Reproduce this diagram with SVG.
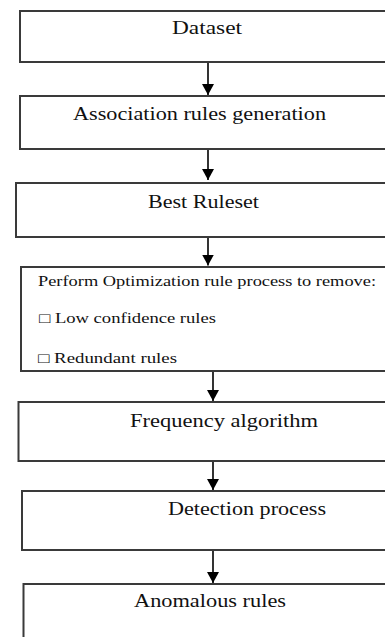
<svg xmlns="http://www.w3.org/2000/svg" width="385" height="637" viewBox="0 0 385 637">
<style>
.box{fill:#fff;stroke:#3a3a3a;stroke-width:2}
.t{font-family:"Liberation Serif","Times New Roman",serif;font-size:18px;fill:#111}
.s{font-family:"Liberation Serif","Times New Roman",serif;font-size:14px;fill:#111}
.c{stroke:#000;stroke-width:1.6;fill:none}
</style>
<defs>
<marker id="ah" markerUnits="userSpaceOnUse" markerWidth="11" markerHeight="12" viewBox="0 0 11 12" refX="11" refY="6" orient="auto">
<path d="M0,0 L11,6 L0,12 Z" fill="#000"/>
</marker>
</defs>
<rect width="385" height="637" fill="#fff"/>
<g id="connectors">
<line class="c" x1="208" y1="62" x2="208" y2="95" marker-end="url(#ah)"/>
<line class="c" x1="208" y1="149" x2="208" y2="180" marker-end="url(#ah)"/>
<line class="c" x1="208" y1="237" x2="208" y2="265.5" marker-end="url(#ah)"/>
<line class="c" x1="213" y1="371" x2="213" y2="401" marker-end="url(#ah)"/>
<line class="c" x1="213" y1="461" x2="213" y2="490" marker-end="url(#ah)"/>
<line class="c" x1="213" y1="550" x2="213" y2="583" marker-end="url(#ah)"/>
</g>
<g id="n1"><rect class="box" x="20" y="11" width="380" height="51"/><text class="t" x="172" y="34" textLength="70" lengthAdjust="spacingAndGlyphs">Dataset</text></g>
<g id="n2"><rect class="box" x="20" y="96" width="380" height="53"/><text class="t" x="73" y="120" textLength="253" lengthAdjust="spacingAndGlyphs">Association rules generation</text></g>
<g id="n3"><rect class="box" x="16" y="183" width="380" height="54"/><text class="t" x="148" y="208" textLength="111" lengthAdjust="spacingAndGlyphs">Best Ruleset</text></g>
<g id="n4"><rect class="box" x="21" y="267" width="380" height="104"/>
<text class="s" x="38" y="286" textLength="338" lengthAdjust="spacingAndGlyphs">Perform Optimization rule process to remove:</text>
<text class="s" x="39" y="323" textLength="177" lengthAdjust="spacingAndGlyphs">□ Low confidence rules</text>
<text class="s" x="38" y="363" textLength="139" lengthAdjust="spacingAndGlyphs">□ Redundant rules</text></g>
<g id="n5"><rect class="box" x="18.5" y="402" width="380" height="59"/><text class="t" x="130" y="427" textLength="188" lengthAdjust="spacingAndGlyphs">Frequency algorithm</text></g>
<g id="n6"><rect class="box" x="22" y="491" width="380" height="59"/><text class="t" x="168" y="515" textLength="158" lengthAdjust="spacingAndGlyphs">Detection process</text></g>
<g id="n7"><rect class="box" x="23.5" y="584" width="380" height="80"/><text class="t" x="134" y="607" textLength="152" lengthAdjust="spacingAndGlyphs">Anomalous rules</text></g>
</svg>
